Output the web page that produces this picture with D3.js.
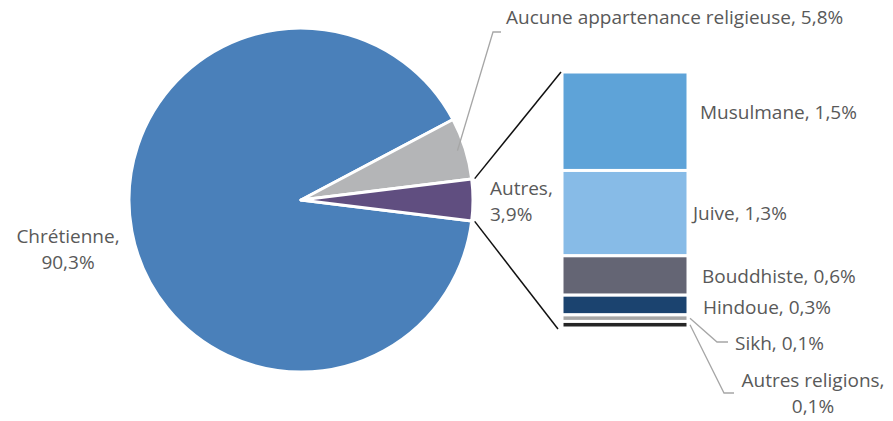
<!DOCTYPE html>
<html><head><meta charset="utf-8">
<script src="https://cdn.jsdelivr.net/npm/d3@7"></script>
<style>body{margin:0;background:#fff}svg{display:block}text{font-family:"Open Sans",Lato,sans-serif;fill:#595959}</style>
</head><body><svg id="c" width="893" height="421"></svg>
<script>
const pieCategories = ["Chrétienne", "Aucune appartenance religieuse", "Autres"];
const pieValues = [90.3, 5.8, 3.9];
const pieColors = ["#4a80ba", "#b4b5b7", "#604e80"];
const barCategories = ["Musulmane", "Juive", "Bouddhiste", "Hindoue", "Sikh", "Autres religions"];
const barValues = [1.5, 1.3, 0.6, 0.3, 0.1, 0.1];
const barColors = ["#5ea3d8", "#87bbe7", "#646574", "#1b436f", "#a6a6a6", "#262626"];
const fmt = v => d3.format(".1f")(v).replace(".", ",") + "%";

const svg = d3.select("#c");
const cx = 301, cy = 200, R = 172;
const total = d3.sum(pieValues);
const autresIdx = 2;
const before = d3.sum(pieValues.slice(0, autresIdx)) + pieValues[autresIdx] / 2;
const start = Math.PI / 2 - before / total * 2 * Math.PI + 2 * Math.PI;
const pie = d3.pie().sort(null).startAngle(start).endAngle(start + 2 * Math.PI);
const arcs = pie(pieValues);
const arc = d3.arc().innerRadius(0).outerRadius(R);
const g = svg.append("g").attr("transform", `translate(${cx},${cy})`);
g.selectAll("path").data(arcs).join("path")
  .attr("d", arc).attr("fill", (d, i) => pieColors[i])
  .attr("stroke", "#fff").attr("stroke-width", 3).attr("stroke-linejoin", "round");

// stacked bar
const bx0 = 562, bx1 = 688;
const y = d3.scaleLinear().domain([0, d3.sum(barValues)]).range([72, 328]);
const cum = d3.cumsum(barValues);
const segs = barValues.map((v, i) => ({v, i, y0: cum[i] - v, y1: cum[i]}));
svg.selectAll("rect.seg").data(segs).join("rect").attr("class", "seg")
  .attr("x", bx0).attr("width", bx1 - bx0)
  .attr("y", d => y(d.y0)).attr("height", d => y(d.y1) - y(d.y0))
  .attr("fill", d => barColors[d.i]).attr("stroke", "#fff").attr("stroke-width", 3);

// connectors from Autres slice to bar
const a = arcs[autresIdx];
const p0 = [cx + (R + 3) * Math.sin(a.startAngle), cy - (R + 3) * Math.cos(a.startAngle)];
const p1 = [cx + (R + 3) * Math.sin(a.endAngle), cy - (R + 3) * Math.cos(a.endAngle)];
svg.append("line").attr("x1", p0[0]).attr("y1", p0[1]).attr("x2", bx0 - 1).attr("y2", y(0)).attr("stroke", "#111").attr("stroke-width", 1.5);
svg.append("line").attr("x1", p1[0]).attr("y1", p1[1]).attr("x2", bx0 - 4).attr("y2", y(d3.sum(barValues)) + 1).attr("stroke", "#111").attr("stroke-width", 1.5);

// font size fitted so the longest label spans the same width as in the reference
const probe = svg.append("text").attr("font-size", 20).text(pieCategories[1] + ", " + fmt(pieValues[1]));
const fs = Math.min(19, 20 * 347 / probe.node().getComputedTextLength());
probe.remove();

function label(x, yy, lines, anchor) {
  const t = svg.append("text").attr("x", x).attr("y", yy).attr("text-anchor", anchor || "start").attr("font-size", fs);
  lines.forEach((l, k) => t.append("tspan").attr("x", x).attr("dy", k ? 26 : 0).text(l));
}
label(68, 243, [pieCategories[0] + ",", fmt(pieValues[0])], "middle");
label(506, 24, [pieCategories[1] + ", " + fmt(pieValues[1])]);
label(490, 195, [pieCategories[2] + ",", fmt(pieValues[2])]);
const mid = d => (y(d.y0) + y(d.y1)) / 2;
label(700, 119, [barCategories[0] + ", " + fmt(barValues[0])]);
label(693, mid(segs[1]) + 7, [barCategories[1] + ", " + fmt(barValues[1])]);
label(702, 283, [barCategories[2] + ", " + fmt(barValues[2])]);
label(703, 314, [barCategories[3] + ", " + fmt(barValues[3])]);
label(735, 350, [barCategories[4] + ", " + fmt(barValues[4])]);
label(813, 387, [barCategories[5] + ",", fmt(barValues[5])], "middle");

// leader lines
const aa = arcs[1];
const am = (aa.startAngle + aa.endAngle) / 2;
const lp = [cx + (R - 8) * Math.sin(am), cy - (R - 8) * Math.cos(am)];
svg.append("polyline").attr("points", `${lp[0]},${lp[1]} 493,32 501,32`).attr("fill", "none").attr("stroke", "#a6a6a6").attr("stroke-width", 1.3);
svg.append("polyline").attr("points", `${bx1 + 2},${mid(segs[4])} 717,342 728,342`).attr("fill", "none").attr("stroke", "#a6a6a6").attr("stroke-width", 1.3);
svg.append("polyline").attr("points", `${bx1 + 2},${mid(segs[5])} 724,393 734,393`).attr("fill", "none").attr("stroke", "#a6a6a6").attr("stroke-width", 1.3);
</script></body></html>
